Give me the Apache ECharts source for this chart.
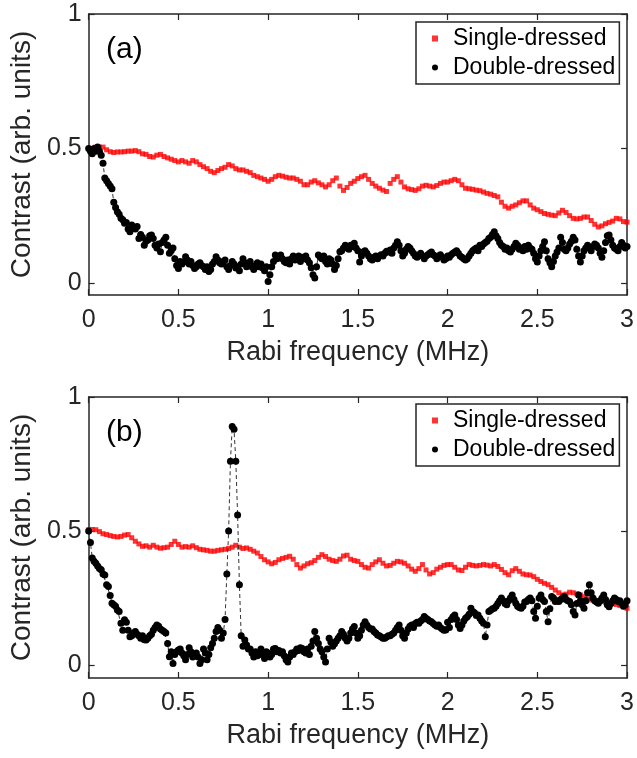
<!DOCTYPE html>
<html><head><meta charset="utf-8">
<script src="https://cdn.jsdelivr.net/npm/echarts@6/dist/echarts.min.js"></script>
<style>html,body{margin:0;padding:0;background:#fff}#c{width:637px;height:758px}</style>
</head><body><div id="c"></div>
<script>
// ---- data ----
const xTicks = [0, 0.5, 1, 1.5, 2, 2.5, 3];
const yTicks = [0, 0.5, 1];
const seriesNames = ['Single-dressed', 'Double-dressed'];
const panelLabels = ['(a)', '(b)'];
const xName = 'Rabi frequency (MHz)';
const yName = 'Contrast (arb. units)';
const redStep = 0.02;   // MHz between single-dressed samples
const blackStep = 0.01; // MHz between double-dressed samples

const singleA = [
.50,.50,.505,.505,.505,.495,.488,.485,.487,.487,
.488,.49,.49,.492,.488,.48,.478,.47,.468,.475,
.478,.47,.465,.46,.455,.45,.455,.45,.445,.455,
.45,.44,.432,.425,.415,.41,.418,.425,.43,.44,
.435,.425,.42,.42,.415,.41,.40,.395,.39,.385,
.378,.385,.395,.40,.397,.393,.39,.39,.385,.378,
.365,.365,.375,.38,.372,.365,.357,.365,.38,.39,
.36,.344,.355,.37,.378,.388,.395,.40,.385,.37,
.36,.352,.345,.34,.37,.385,.395,.375,.357,.35,
.347,.344,.35,.36,.363,.36,.357,.362,.37,.375,
.375,.38,.385,.38,.365,.352,.35,.348,.345,.343,
.338,.333,.33,.325,.32,.30,.285,.278,.285,.29,
.298,.305,.305,.29,.278,.272,.265,.258,.255,.252,
.25,.26,.27,.262,.25,.24,.238,.24,.245,.245,
.232,.218,.208,.212,.22,.225,.23,.24,.238,.228,
.226];

const doubleA = [
.50,.49,.48,.50,.49,.505,.49,.475,.445,.39,
.38,.37,.36,.35,.30,.28,.265,.255,.24,.235,
.222,.225,.20,.19,.215,.205,.20,.21,.165,.18,
.17,.14,.155,.16,.175,.178,.165,.14,.13,.145,
.116,.15,.16,.17,.14,.11,.12,.13,.09,.065,
.054,.08,.07,.078,.097,.085,.07,.08,.065,.054,
.06,.07,.075,.065,.06,.05,.06,.042,.05,.07,
.08,.097,.085,.075,.07,.08,.085,.06,.05,.065,
.08,.07,.055,.06,.045,.07,.09,.075,.06,.07,
.08,.06,.05,.065,.075,.06,.07,.055,.045,.06,
.005,.03,.06,.08,.104,.09,.095,.104,.09,.08,
.075,.085,.07,.09,.10,.085,.09,.10,.08,.095,
.09,.10,.085,.075,.056,.03,.018,.06,.104,.095,
.09,.10,.08,.07,.09,.085,.07,.05,.065,.09,
.116,.12,.13,.14,.13,.125,.14,.135,.147,.13,
.12,.078,.10,.115,.12,.11,.10,.09,.085,.095,
.10,.09,.10,.105,.10,.11,.118,.115,.122,.11,
.13,.14,.153,.14,.12,.10,.11,.125,.135,.13,
.12,.11,.10,.095,.104,.11,.10,.09,.10,.105,
.11,.115,.105,.10,.09,.10,.105,.095,.085,.09,
.10,.095,.105,.11,.115,.12,.11,.10,.095,.09,
.085,.09,.10,.11,.12,.125,.13,.12,.14,.135,
.145,.15,.155,.165,.17,.18,.19,.175,.165,.15,
.14,.135,.125,.13,.12,.115,.125,.135,.147,.14,
.125,.13,.12,.135,.125,.14,.13,.125,.11,.09,
.078,.10,.12,.135,.153,.12,.09,.075,.06,.08,
.10,.115,.13,.17,.15,.125,.12,.13,.145,.155,
.17,.16,.125,.10,.078,.10,.12,.13,.14,.13,
.12,.135,.145,.14,.13,.11,.095,.12,.15,.175,
.178,.16,.14,.13,.125,.12,.135,.15,.14,.13,
.135];

const singleB = [
.505,.506,.505,.498,.49,.487,.483,.48,.478,.48,
.485,.487,.475,.462,.452,.443,.445,.44,.447,.44,
.436,.438,.44,.45,.462,.45,.44,.442,.44,.445,
.438,.432,.43,.428,.425,.425,.428,.43,.432,.435,
.44,.447,.44,.435,.437,.432,.425,.418,.405,.393,
.385,.378,.383,.393,.398,.402,.406,.395,.375,.362,
.37,.378,.382,.39,.402,.412,.405,.395,.39,.387,
.395,.407,.41,.395,.39,.387,.375,.365,.362,.375,
.385,.393,.38,.37,.372,.38,.387,.385,.38,.37,
.358,.35,.36,.375,.355,.34,.345,.358,.365,.372,
.375,.375,.365,.355,.353,.365,.375,.372,.37,.372,
.375,.373,.37,.375,.368,.357,.345,.337,.352,.36,
.35,.34,.337,.336,.33,.32,.312,.305,.30,.29,
.28,.27,.262,.265,.272,.27,.266,.262,.255,.248,
.243,.24,.238,.237,.235,.232,.23,.226,.222,.218,
.212];

const doubleB = [
.50,.457,.40,.387,.38,.37,.36,.356,.34,.336,
.30,.293,.26,.231,.225,.22,.206,.20,.156,.13,
.169,.16,.13,.106,.11,.12,.125,.115,.11,.10,
.11,.095,.094,.10,.11,.115,.13,.14,.15,.145,
.135,.13,.125,.12,.081,.031,.05,.006,.04,.05,
.056,.06,.045,.035,.02,.04,.065,.05,.03,.04,
.045,.03,.006,.02,.06,.045,.02,.04,.065,.081,
.10,.125,.14,.13,.10,.12,.17,.34,.50,.76,
.89,.88,.76,.56,.30,.11,.07,.094,.075,.06,
.06,.045,.03,.05,.035,.04,.06,.04,.025,.05,
.045,.03,.04,.06,.062,.05,.055,.045,.05,.035,
.02,.012,.03,.045,.04,.05,.06,.055,.065,.062,
.05,.045,.06,.04,.07,.09,.125,.10,.081,.06,
.05,.03,.012,.06,.10,.085,.07,.08,.09,.10,
.11,.125,.115,.10,.09,.10,.12,.135,.144,.12,
.10,.11,.13,.15,.162,.15,.14,.135,.135,.125,
.12,.112,.11,.105,.10,.10,.105,.11,.11,.115,
.12,.13,.14,.15,.13,.11,.10,.12,.135,.145,
.15,.14,.155,.16,.156,.165,.17,.181,.175,.17,
.165,.162,.155,.15,.145,.15,.14,.135,.13,.131,
.16,.14,.17,.18,.187,.17,.15,.137,.15,.165,
.175,.18,.19,.212,.20,.195,.185,.187,.175,.165,
.156,.106,.15,.20,.205,.21,.212,.22,.23,.24,
.25,.24,.23,.225,.24,.25,.262,.245,.231,.22,
.215,.212,.22,.235,.237,.245,.25,.24,.20,.175,
.22,.25,.262,.245,.237,.20,.162,.21,.256,.25,
.237,.24,.237,.245,.25,.256,.245,.24,.237,.225,
.20,.187,.23,.262,.24,.225,.212,.24,.27,.30,
.27,.25,.24,.235,.231,.24,.25,.262,.245,.225,
.218,.23,.24,.25,.245,.237,.24,.23,.22,.225,
.24];

// ---- chart ----
const FONT = '"Liberation Sans", Arial, sans-serif';
const TXT = '#262626';
const pairs = (arr, step) => arr.map((v, i) => [+(i * step).toFixed(4), v]);

const panels = [
  {top: 14, height: 281, ymin: -0.045, red: singleA, black: doubleA, legendTop: 22, labelTop: 35},
  {top: 397, height: 281, ymin: -0.048, red: singleB, black: doubleB, legendTop: 404, labelTop: 418}
];

const axisLine = {show: true, onZero: false, lineStyle: {color: TXT, width: 1.5}};
const tickIn = {show: true, inside: true, length: 6, lineStyle: {color: TXT, width: 1.2}};

const option = {
  animation: false,
  backgroundColor: '#fff',
  textStyle: {fontFamily: FONT},
  grid: [], xAxis: [], yAxis: [], series: [], legend: [], title: []
};

panels.forEach((p, k) => {
  option.grid.push({left: 87, right: 9, top: p.top, height: p.height, containLabel: false});
  option.xAxis.push({
    type: 'value', gridIndex: k, min: 0, max: 3, interval: 0.5, position: 'bottom',
    axisLine, axisTick: tickIn, splitLine: {show: false},
    axisLabel: {color: TXT, fontSize: 25, margin: 13, fontFamily: FONT},
    name: xName, nameLocation: 'middle', nameGap: 44,
    nameTextStyle: {color: TXT, fontSize: 27, fontFamily: FONT}
  });
  option.xAxis.push({
    type: 'value', gridIndex: k, min: 0, max: 3, interval: 0.5, position: 'top',
    axisLine, axisTick: tickIn, axisLabel: {show: false}, splitLine: {show: false}
  });
  option.yAxis.push({
    type: 'value', gridIndex: k, min: p.ymin, max: 1, position: 'left',
    axisLine, axisTick: Object.assign({customValues: yTicks}, tickIn), splitLine: {show: false},
    axisLabel: {customValues: yTicks, color: TXT, fontSize: 25, margin: 7, fontFamily: FONT},
    name: yName, nameLocation: 'middle', nameGap: 46,
    nameTextStyle: {color: TXT, fontSize: 28, fontFamily: FONT}
  });
  option.yAxis.push({
    type: 'value', gridIndex: k, min: p.ymin, max: 1, position: 'right',
    axisLine, axisTick: Object.assign({customValues: yTicks}, tickIn),
    axisLabel: {show: false}, splitLine: {show: false}
  });
  option.series.push({
    name: seriesNames[0], type: 'scatter', xAxisIndex: 2 * k, yAxisIndex: 2 * k,
    symbol: 'rect', symbolSize: 5, itemStyle: {color: '#ff0000'},
    data: pairs(p.red, redStep), z: 2
  });
  option.series.push({
    name: seriesNames[1], type: 'line', xAxisIndex: 2 * k, yAxisIndex: 2 * k,
    symbol: 'circle', symbolSize: 7, showSymbol: true, showAllSymbol: true,
    itemStyle: {color: '#000'},
    lineStyle: {color: '#333', width: 1, type: [4, 3]},
    data: pairs(p.black, blackStep), z: 3
  });
  option.legend.push({
    orient: 'vertical', left: 416, top: p.legendTop, selectedMode: false,
    backgroundColor: '#fff', borderColor: TXT, borderWidth: 1.5,
    padding: [5, 4, 5, 16], itemGap: 6, itemWidth: 6, itemHeight: 6,
    textStyle: {color: '#000', fontSize: 23, fontFamily: FONT, padding: [0, 0, 0, 10]},
    data: [
      {name: seriesNames[0], icon: 'rect', itemStyle: {color: '#ff0000'}},
      {name: seriesNames[1], icon: 'circle', itemStyle: {color: '#000'}}
    ]
  });
  option.title.push({
    text: panelLabels[k], left: 106, top: p.labelTop, padding: 0,
    textStyle: {color: '#000', fontSize: 30, fontWeight: 'normal', fontFamily: FONT}
  });
});

const chart = echarts.init(document.getElementById('c'), null, {renderer: 'canvas'});
chart.setOption(option);
</script>
</body></html>
